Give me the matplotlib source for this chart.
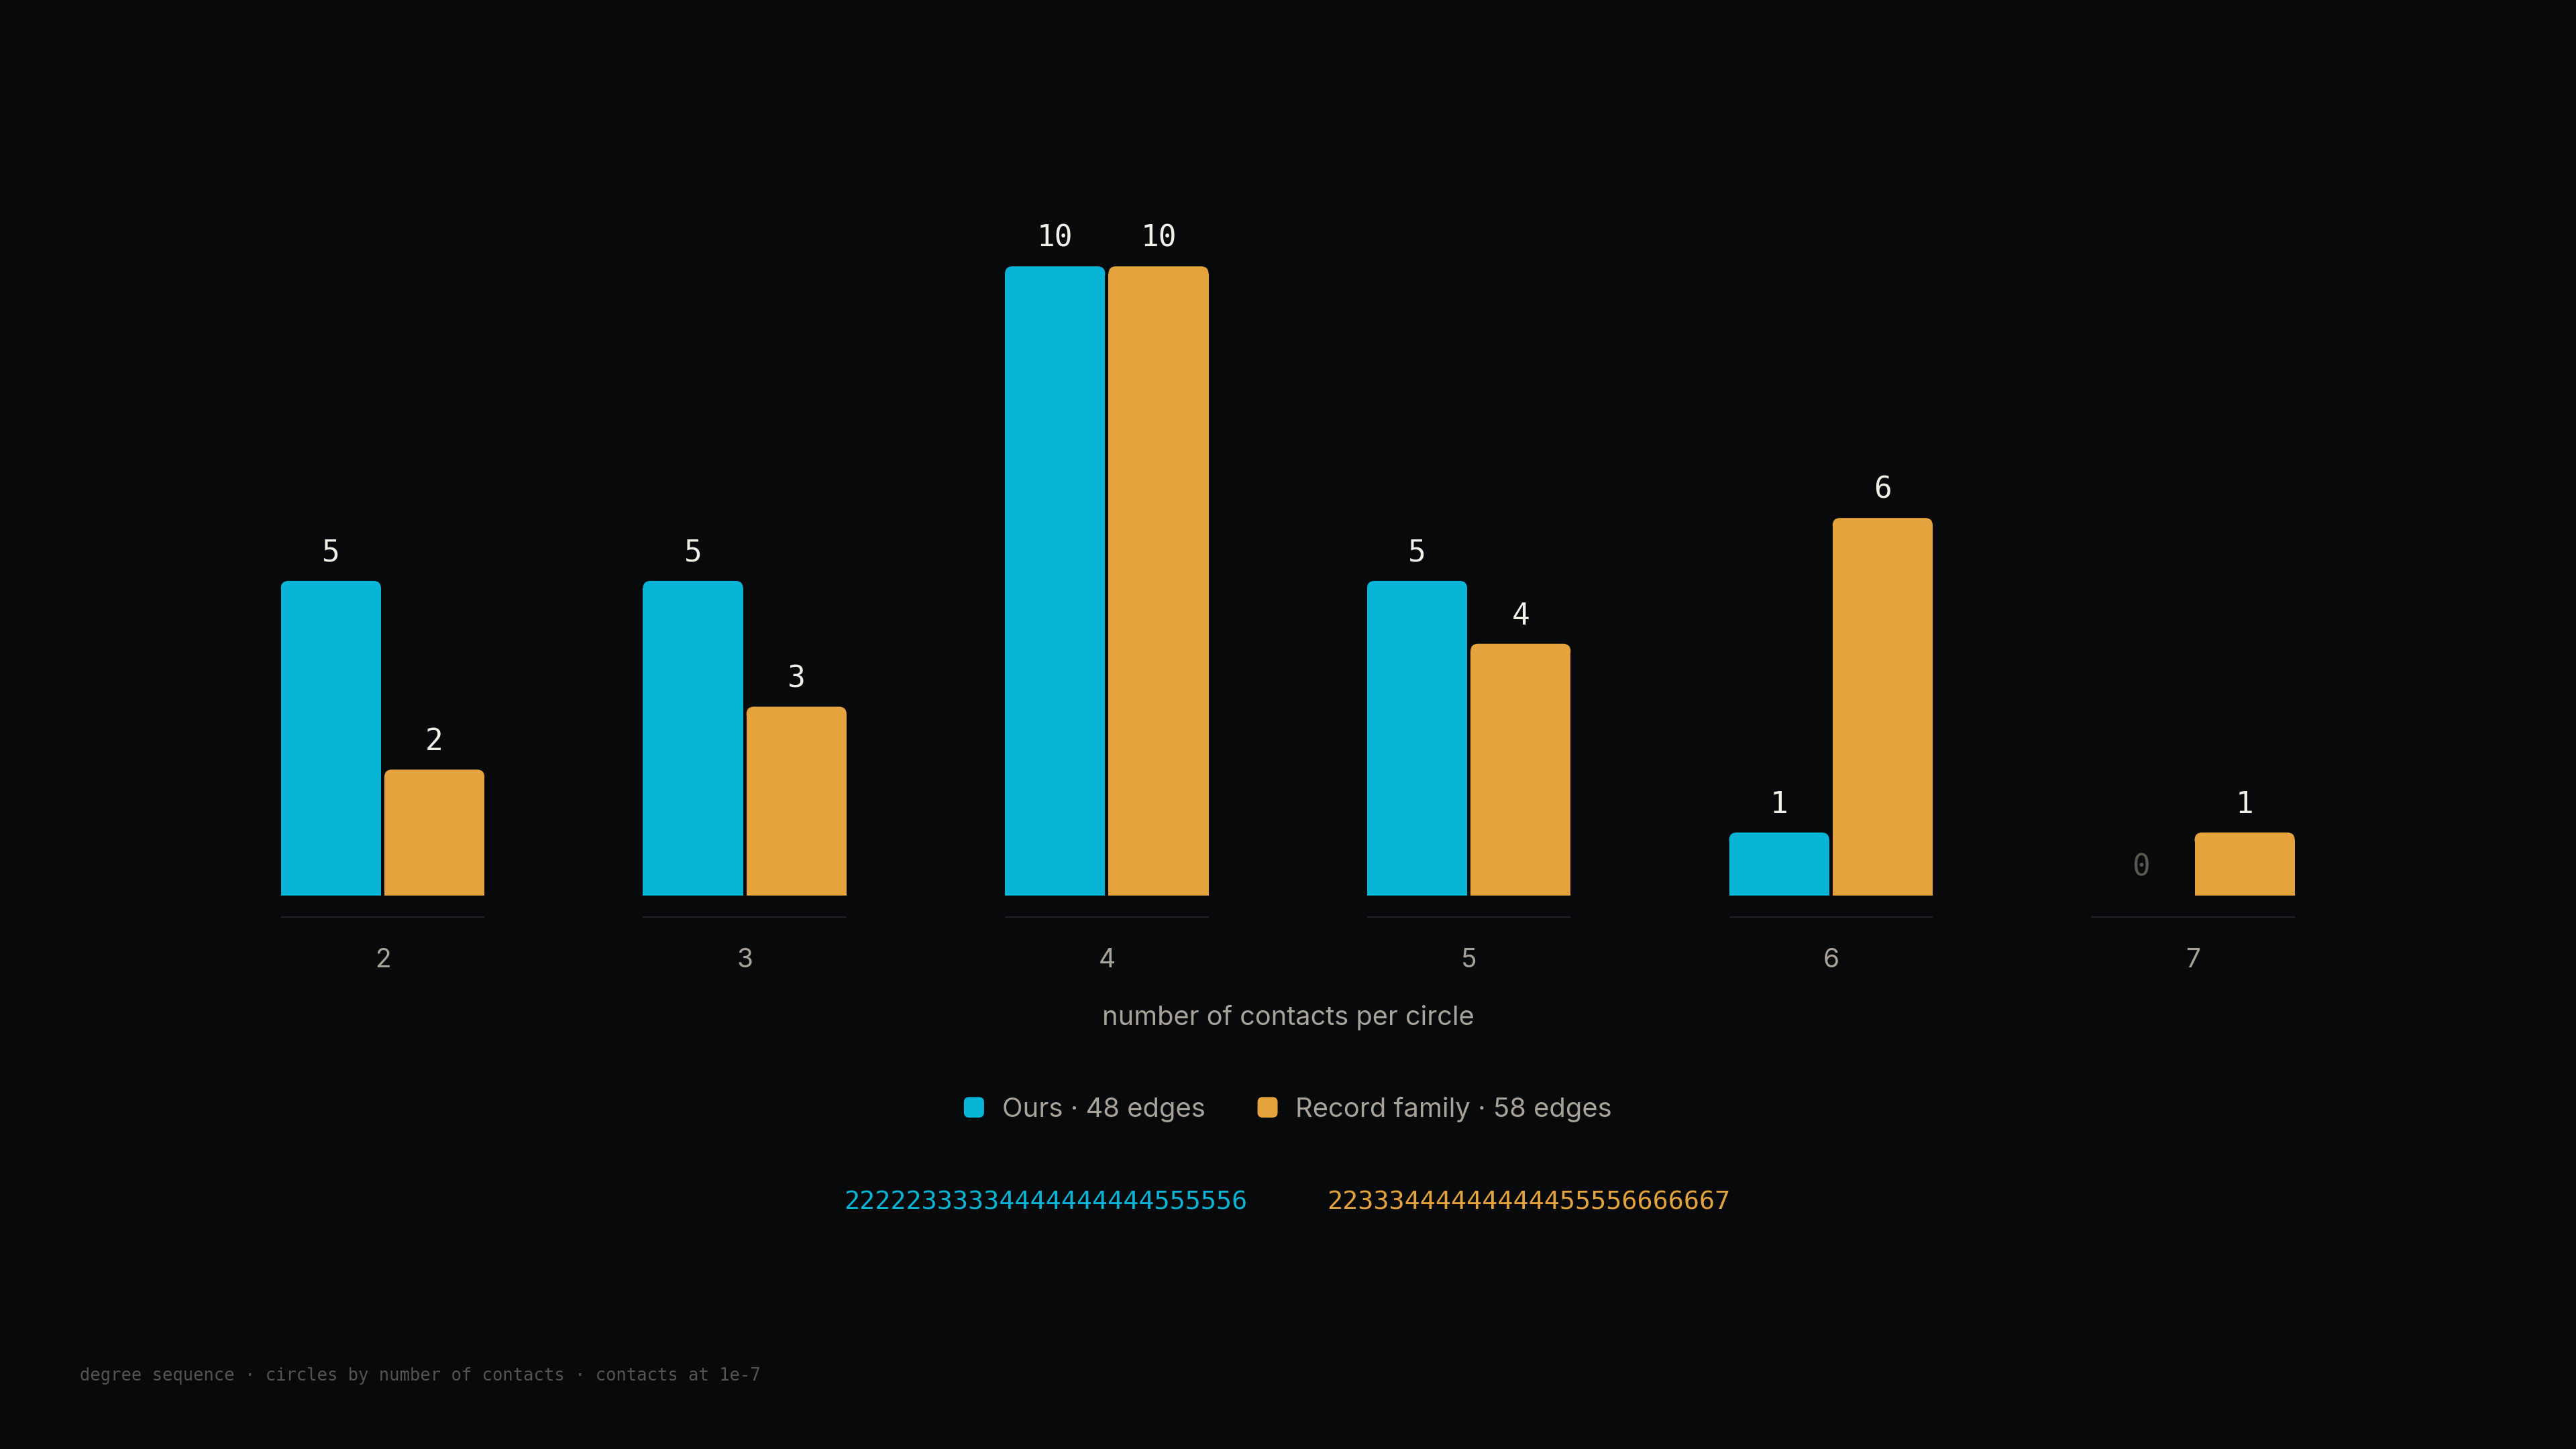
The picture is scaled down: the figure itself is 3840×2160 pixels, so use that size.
import matplotlib
matplotlib.use("Agg")
import matplotlib.pyplot as plt
from matplotlib.patches import FancyBboxPatch, Patch
from matplotlib.legend_handler import HandlerPatch
import numpy as np

# ---- data ----
contacts = [2, 3, 4, 5, 6, 7]
ours = [5, 5, 10, 5, 1, 0]
record = [2, 3, 10, 4, 6, 1]
series_names = ["Ours", "Record family"]
x_label = "number of contacts per circle"
footnote = "degree sequence · circles by number of contacts · contacts at 1e-7"

# ---- style ----
BG = "#08090b"
CYAN = "#08b5d6"
ORANGE = "#e4a33c"
VAL_COL = "#f2efe8"
ZERO_COL = "#5a5650"
TICK_COL = "#a8a39a"
FOOT_COL = "#56534e"
SANS = ["Inter", "DejaVu Sans"]
MONO = ["DejaVu Sans Mono"]

plt.rcParams["font.family"] = SANS

fig = plt.figure(figsize=(19.2, 10.8), dpi=200, facecolor=BG)
ax = fig.add_axes([0, 0.356, 1, 0.547])
ax.set_facecolor(BG)
ax.set_xlim(-1.057, 6.058)
ax.set_ylim(-0.6, 12)
for s in ax.spines.values():
    s.set_visible(False)
ax.set_yticks([])

x = np.arange(len(contacts))
W = 0.2765
OFF = 0.1429
RX = 0.0204
RY = 0.117
LABEL_OFF = 15.0


def rounded_bars(xs, vals, color):
    bars = ax.bar(xs, vals, width=W, color=color, linewidth=0)
    for b, v in zip(bars, vals):
        xc = b.get_x() + b.get_width() / 2
        if v <= 0:
            b.set_visible(False)
            ax.annotate(str(v), (xc, 0), xytext=(0, LABEL_OFF), textcoords="offset points",
                        ha="center", va="center", fontfamily=MONO, fontsize=16, color=ZERO_COL)
            continue
        b.set_height(v - RY)
        p = FancyBboxPatch((b.get_x(), v - 2 * RY), b.get_width(), 2 * RY,
                           boxstyle=f"round,pad=0,rounding_size={RX}",
                           mutation_aspect=RY / RX, fc=color, ec="none", lw=0)
        ax.add_patch(p)
        ax.annotate(str(v), (xc, v), xytext=(0, LABEL_OFF), textcoords="offset points",
                    ha="center", va="center", fontfamily=MONO, fontsize=16, color=VAL_COL)


rounded_bars(x - OFF, ours, CYAN)
rounded_bars(x + OFF, record, ORANGE)

# thin base line under each group
ax.hlines([-0.34] * len(x), x - OFF - W / 2, x + OFF + W / 2, color="#202125", lw=0.8)

ax.set_xticks(x, [str(c) for c in contacts])
ax.tick_params(axis="x", length=0, pad=7.8, labelsize=14, labelcolor=TICK_COL)

fig.text(0.5, 0.2978, x_label, ha="center", va="center", fontsize=14.3, color=TICK_COL)


# legend
def make_round(legend, orig_handle, xdescent, ydescent, width, height, fontsize):
    return FancyBboxPatch((-xdescent, -ydescent), width, height,
                          boxstyle=f"round,pad=0,rounding_size={height * 0.25}")


edges_ours = sum(c * n for c, n in zip(contacts, ours)) // 2
edges_rec = sum(c * n for c, n in zip(contacts, record)) // 2
handles = [Patch(fc=CYAN, ec="none", label=f"{series_names[0]} · {edges_ours} edges"),
           Patch(fc=ORANGE, ec="none", label=f"{series_names[1]} · {edges_rec} edges")]
fig.legend(handles=handles, loc="center", bbox_to_anchor=(0.5, 0.2345), ncol=2, frameon=False,
           fontsize=14.4, labelcolor=TICK_COL, handlelength=0.75, handleheight=0.8,
           handletextpad=0.67, columnspacing=1.95,
           handler_map={Patch: HandlerPatch(patch_func=make_round)})

# degree sequences
seq_ours = "".join(str(c) * n for c, n in zip(contacts, ours))
seq_rec = "".join(str(c) * n for c, n in zip(contacts, record))
fig.text(0.4059, 0.170, seq_ours, ha="center", va="center", fontfamily=MONO, fontsize=13.8, color=CYAN)
fig.text(0.5934, 0.170, seq_rec, ha="center", va="center", fontfamily=MONO, fontsize=13.8, color=ORANGE)

fig.text(0.031, 0.0505, footnote, ha="left", va="center", fontfamily=MONO, fontsize=9.2, color=FOOT_COL)

fig.savefig("out.png", dpi=200, facecolor=BG)
